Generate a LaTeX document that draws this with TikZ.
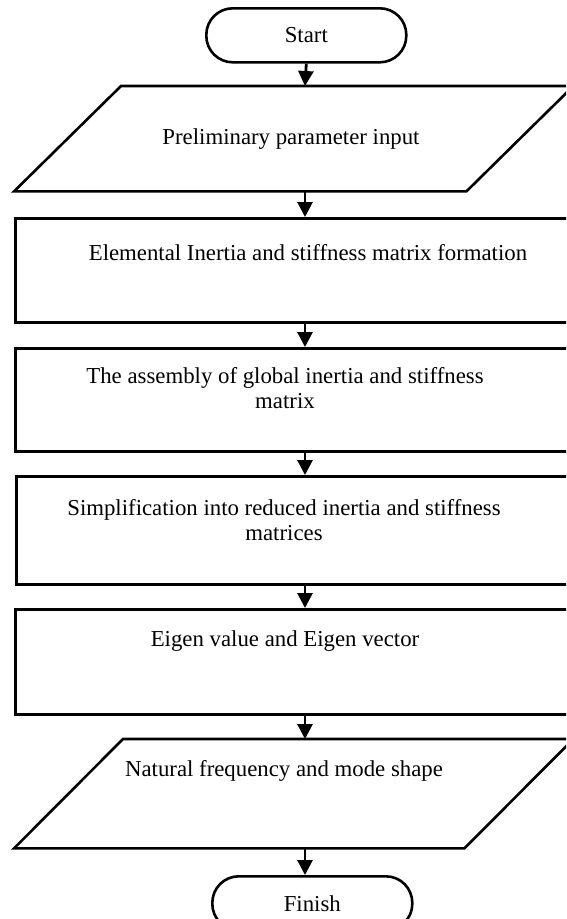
\documentclass[tikz,border=0pt]{standalone}
\usepackage{fontspec}
\setmainfont{Liberation Serif}
\usetikzlibrary{arrows.meta}
\begin{document}
\begin{tikzpicture}[x=1pt,y=-1pt,
  txt/.style={font=\fontsize{22.8}{25}\selectfont, align=center, inner sep=0pt},
  termbox/.style={draw, line width=2.6pt, rounded corners=26.5pt, minimum width=200pt, minimum height=54pt, inner sep=0pt, anchor=north west, font=\fontsize{22.8}{25}\selectfont},
  procbox/.style={draw, line width=2.6pt, minimum width=586pt, inner sep=0pt, anchor=north west},
  iobox/.style={minimum width=559pt, inner sep=0pt, anchor=north west},
  ioline/.style={line width=2.6pt, line join=miter},
  flow/.style={line width=2.8pt, -{Triangle[length=15pt,width=15pt]}}
]
\clip (0,0) rectangle (566,919);
\coordinate (axis) at (305,0);

% Start
\node[termbox] (start) at (205,7) {Start};

% Preliminary parameter input
\node[iobox, minimum height=105pt] (p1) at (14,86) {};
\draw[ioline] (p1.south west) -- ([xshift=107pt]p1.north west) -- (p1.north east) -- ([xshift=-107pt]p1.south east) -- cycle;
\node[txt] (t1) at (291,139) {Preliminary parameter input};

% Elemental
\node[procbox, minimum height=104pt] (r1) at (14,217) {};
\node[txt] (t2) at (308,253) {Elemental Inertia and stiffness matrix formation};

% Assembly
\node[procbox, minimum height=103pt] (r2) at (14,347) {};
\node[txt] (t3) at (285,388) {The assembly of global inertia and stiffness\\matrix};

% Simplification
\node[procbox, minimum height=108pt] (r3) at (15,475) {};
\node[txt] (t4) at (284,520) {Simplification into reduced inertia and stiffness\\matrices};

% Eigen
\node[procbox, minimum height=105pt] (r4) at (14,608) {};
\node[txt] (t5) at (285,641) {Eigen value and Eigen vector};

% Natural frequency
\node[iobox, minimum height=109pt] (p2) at (14,739) {};
\draw[ioline] (p2.south west) -- ([xshift=109pt]p2.north west) -- (p2.north east) -- ([xshift=-109pt]p2.south east) -- cycle;
\node[txt] (t6) at (284,771) {Natural frequency and mode shape};

% Finish
\node[termbox] (finish) at (211,875) {Finish};

% connectors
\draw[flow] (start.south) -- (axis |- p1.north);
\draw[flow] (axis |- p1.south) -- (axis |- r1.north);
\draw[flow] (axis |- r1.south) -- (axis |- r2.north);
\draw[flow] (axis |- r2.south) -- (axis |- r3.north);
\draw[flow] (axis |- r3.south) -- (axis |- r4.north);
\draw[flow] (axis |- r4.south) -- (axis |- p2.north);
\draw[flow] (axis |- p2.south) -- (axis |- finish.north);
\end{tikzpicture}
\end{document}
